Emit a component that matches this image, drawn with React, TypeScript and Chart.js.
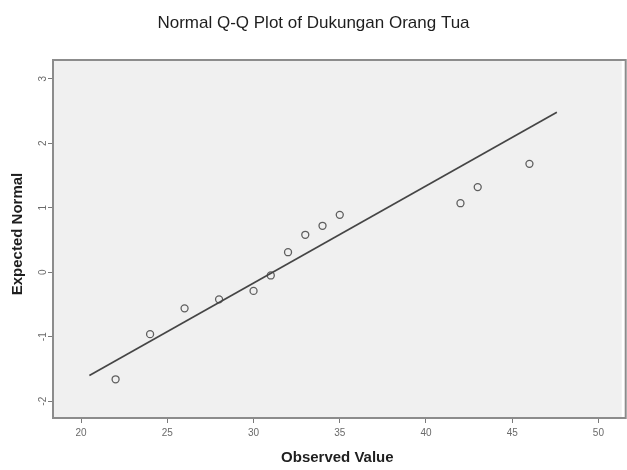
import React, { useEffect, useRef } from "react";
import { Chart, registerables } from "chart.js";

Chart.register(...registerables);

const chartTitle = "Normal Q-Q Plot of Dukungan Orang Tua";
const xAxisTitle = "Observed Value";
const yAxisTitle = "Expected Normal";

const xTicks = [20, 25, 30, 35, 40, 45, 50];
const yTicks = [-2, -1, 0, 1, 2, 3];

const observed = [22, 24, 26, 28, 30, 31, 32, 33, 34, 35, 42, 43, 46];
const expectedNormal = [-1.66, -0.96, -0.56, -0.42, -0.29, -0.05, 0.31, 0.58, 0.72, 0.89, 1.07, 1.32, 1.68];

const refLineX = [20.48, 47.59];
const refLineY = [-1.6, 2.48];

const xMin = 18.37;
const xMax = 51.35;
const yMin = -2.26;
const yMax = 3.29;

export default function App() {
  const canvasRef = useRef<HTMLCanvasElement | null>(null);

  useEffect(() => {
    const canvas = canvasRef.current;
    if (!canvas) return;

    const decor = {
      id: "spssDecor",
      beforeDraw(chart: any) {
        const { ctx, chartArea } = chart;
        ctx.save();
        ctx.fillStyle = "#ffffff";
        ctx.fillRect(0, 0, chart.width, chart.height);
        ctx.fillStyle = "#f0f0f0";
        ctx.fillRect(chartArea.left, chartArea.top, chartArea.right - chartArea.left, chartArea.bottom - chartArea.top);
        ctx.restore();
      },
      afterDraw(chart: any) {
        const { ctx, chartArea } = chart;
        const yScale = chart.scales.y;
        ctx.save();
        // frame
        ctx.strokeStyle = "#8c8c8c";
        ctx.lineWidth = 2;
        ctx.strokeRect(chartArea.left, chartArea.top, chartArea.right - chartArea.left + 4, chartArea.bottom - chartArea.top);
        // y tick labels (rotated)
        ctx.fillStyle = "#6a6a6a";
        ctx.font = "10px 'Liberation Sans', Arial, sans-serif";
        ctx.textAlign = "center";
        ctx.textBaseline = "middle";
        yTicks.forEach((v) => {
          const py = yScale.getPixelForValue(v);
          ctx.save();
          ctx.translate(chartArea.left - 10, py);
          ctx.rotate(-Math.PI / 2);
          ctx.fillText(String(v), 0, 0);
          ctx.restore();
        });
        // title
        ctx.fillStyle = "#1e1e1e";
        ctx.font = "17px 'Liberation Sans', Arial, sans-serif";
        ctx.textAlign = "center";
        ctx.textBaseline = "alphabetic";
        ctx.fillText(chartTitle, chart.width / 2, 28);
        // x axis title
        ctx.font = "bold 15px 'Liberation Sans', Arial, sans-serif";
        ctx.textBaseline = "middle";
        ctx.fillText(xAxisTitle, (chartArea.left + chartArea.right) / 2, 458);
        // y axis title
        ctx.save();
        ctx.translate(18, (chartArea.top + chartArea.bottom) / 2 - 5);
        ctx.rotate(-Math.PI / 2);
        ctx.fillText(yAxisTitle, 0, 0);
        ctx.restore();
        ctx.restore();
      },
    };

    const chart = new Chart(canvas, {
      type: "scatter",
      data: {
        datasets: [
          {
            type: "line",
            data: refLineX.map((x, i) => ({ x, y: refLineY[i] })),
            borderColor: "#454545",
            borderWidth: 1.7,
            pointRadius: 0,
            showLine: true,
            fill: false,
          } as any,
          {
            data: observed.map((x, i) => ({ x, y: expectedNormal[i] })),
            pointRadius: 3.5,
            pointBorderColor: "#5e5e5e",
            pointBackgroundColor: "rgba(0,0,0,0)",
            pointBorderWidth: 1.3,
            showLine: false,
          },
        ],
      },
      options: {
        animation: false,
        responsive: true,
        maintainAspectRatio: false,
        layout: { padding: { top: 60, left: 0, right: 0, bottom: 0 } },
        plugins: {
          legend: { display: false },
          tooltip: { enabled: false },
          title: { display: false },
        },
        scales: {
          x: {
            type: "linear",
            min: xMin,
            max: xMax,
            afterBuildTicks: (scale: any) => {
              scale.ticks = xTicks.map((v) => ({ value: v }));
            },
            afterFit: (scale: any) => {
              scale.height = 52;
            },
            grid: { display: true, drawOnChartArea: false, drawTicks: true, tickLength: 5, color: "#7a7a7a" },
            border: { display: false },
            ticks: {
              color: "#6a6a6a",
              font: { family: "'Liberation Sans', Arial, sans-serif", size: 10 },
              padding: 4,
              maxRotation: 0,
              autoSkip: false,
            },
          },
          y: {
            type: "linear",
            min: yMin,
            max: yMax,
            afterBuildTicks: (scale: any) => {
              scale.ticks = yTicks.map((v) => ({ value: v }));
            },
            afterFit: (scale: any) => {
              scale.width = 53;
            },
            grid: { display: true, drawOnChartArea: false, drawTicks: true, tickLength: 5, color: "#7a7a7a" },
            border: { display: false },
            ticks: { display: false },
          },
        },
      },
      plugins: [decor],
    });

    return () => chart.destroy();
  }, []);

  return (
    <div style={{ position: "fixed", left: 0, top: 0, width: 627, height: 470, background: "#fff" }}>
      <canvas ref={canvasRef} />
    </div>
  );
}
